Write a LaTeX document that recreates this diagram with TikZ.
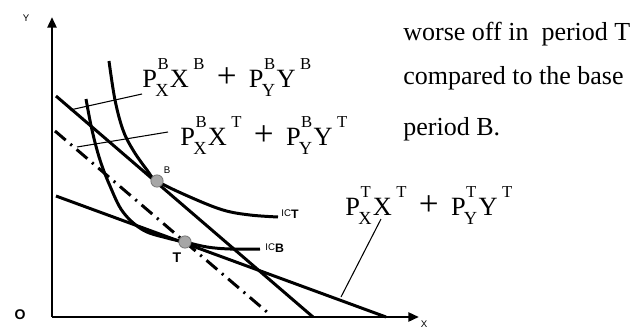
\documentclass[tikz,border=0pt]{standalone}
\usepackage{fontspec}
\setmainfont{Liberation Serif}
\setsansfont{Liberation Sans}
\usepackage{tikz}
\usetikzlibrary{arrows.meta}

% price term: P with stacked sub- and superscript
\newcommand{\supsz}{\fontsize{9.5}{9.5}\selectfont}
\newcommand{\subsz}{\fontsize{10.5}{10.5}\selectfont}
\newcommand{\pterm}[2]{P\rlap{\raisebox{0.66em}{\supsz\kern0.3pt #2}}\kern-1pt\raisebox{-0.36em}{\subsz #1}}
\newcommand{\qterm}[2]{\kern0.8pt #1\kern2.5pt\raisebox{0.66em}{\supsz #2}}
\newcommand{\plus}{\hspace{7pt}{\fontsize{20}{20}\selectfont +}\hspace{7pt}}

\tikzset{
  thick line/.style={line width=1.7pt},
  leader/.style={line width=0.6pt},
  formula/.style={font=\fontsize{15}{15}\selectfont, inner sep=0pt, anchor=base west},
  note/.style={font=\fontsize{14.8}{14.8}\selectfont, inner sep=0pt, anchor=base west},
  small label/.style={font=\sffamily\fontsize{5.5}{5.5}\selectfont, inner sep=0pt},
  bundle/.style={circle, fill=gray!70, draw=gray!90!black, line width=0.4pt, minimum size=7pt, inner sep=0pt}
}

\begin{document}
\begin{tikzpicture}[x=0.02cm,y=-0.02cm]
\useasboundingbox (0,0) rectangle (639,328);
% axes
\coordinate (O) at (52,317);
\coordinate (ytop) at (52,17);
\coordinate (xend) at (419,317);
\draw[thick line,-{Triangle[length=6pt,width=5pt]}] (O) -- (ytop);
\draw[thick line,-{Triangle[length=6pt,width=5pt]}] (O) -- (xend);
\node[small label] (ylab) at (26,18) {Y};
\node[small label] (xlab) at (424,324) {X};
\node[font=\sffamily\bfseries\fontsize{8}{8}\selectfont] (olab) at (20,315) {O};

% budget lines
\coordinate (bb1) at (56,96);
\coordinate (bb2) at (313,317);
\coordinate (bt1) at (55,131);
\coordinate (bt2) at (267,312);
\coordinate (tt1) at (56,196);
\coordinate (tt2) at (386,317);
\draw[thick line] (bb1) -- (bb2);
\draw[thick line,dash pattern=on 8pt off 3.5pt on 1.2pt off 3.5pt] (bt1) -- (bt2);
\draw[thick line] (tt1) -- (tt2);

% indifference curves
\draw[thick line] plot[smooth,tension=0.6] coordinates {(109,61) (115,100) (123,130) (133,150) (147,170) (157,181) (190,197) (223,210) (250,215) (278,217)};
\draw[thick line] plot[smooth,tension=0.6] coordinates {(86,99) (92,130) (100,160) (110,186) (123,212) (143,230) (167,238) (185,242) (207,247) (230,249) (260,249)};
\node[small label,anchor=west] (ict) at (281,214) {IC\raisebox{-0.25em}{\fontsize{7}{7}\selectfont\bfseries T}};
\node[small label,anchor=west] (icb) at (265,248) {IC\raisebox{-0.25em}{\fontsize{7}{7}\selectfont\bfseries B}};

% bundles
\node[bundle] (B) at (157,181) {};
\node[bundle] (T) at (185,242) {};
\node[small label] (blab) at (167,170) {B};
\node[font=\sffamily\bfseries\fontsize{8}{8}\selectfont,inner sep=0pt] (tlab) at (177,258) {T};

% expenditure labels
\node[formula] (eBB) at (142,87) {\pterm{X}{B}\qterm{X}{B}\plus\pterm{Y}{B}\qterm{Y}{B}};
\node[formula] (eBT) at (180,145) {\pterm{X}{B}\qterm{X}{T}\plus\pterm{Y}{B}\qterm{Y}{T}};
\node[formula] (eTT) at (345,215) {\pterm{X}{T}\qterm{X}{T}\plus\pterm{Y}{T}\qterm{Y}{T}};
\coordinate (l1) at (70,110);
\coordinate (l1e) at (142,94);
\coordinate (l2) at (77,147);
\coordinate (l2e) at (168,132);
\coordinate (l3) at (341,297);
\coordinate (l3e) at (381,219);
\draw[leader] (l1) -- (l1e);
\draw[leader] (l2) -- (l2e);
\draw[leader] (l3) -- (l3e);

% comment text
\node[note] (n1) at (403,40) {worse off in \ period T};
\node[note] (n2) at (403,84) {compared to the base};
\node[note] (n3) at (403,135) {period B.};
\end{tikzpicture}
\end{document}
